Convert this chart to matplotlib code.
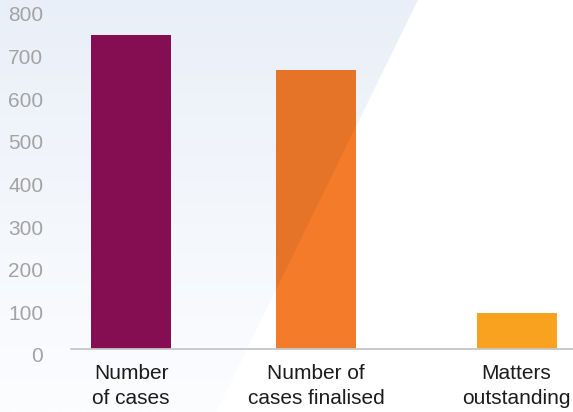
import numpy as np
import matplotlib.pyplot as plt
from matplotlib.patches import Polygon
import matplotlib.transforms as mtransforms

plt.rcParams['font.family'] = ['Liberation Sans', 'DejaVu Sans']

categories = ["Number\nof cases", "Number of\ncases finalised", "Matters\noutstanding"]
values = [737, 654, 85]
colors = ["#850e52", "#f47b2a", "#f9a21f"]
shaded = ["#850e52", "#e57428", "#e8951c"]
yticks = [0, 100, 200, 300, 400, 500, 600, 700, 800]

W, H = 573, 412
fig = plt.figure(figsize=(W / 100, H / 100), dpi=100)

# background band with a soft vertical gradient
bg = fig.add_axes([0, 0, 1, 1], zorder=0)
bg.set_xlim(0, W)
bg.set_ylim(H, 0)
bg.axis('off')
grad = np.linspace(0, 1, 256).reshape(-1, 1)
top = np.array([233, 239, 248]) / 255
bot = np.array([252, 253, 255]) / 255
img = top + (bot - top) * grad[..., None] ** 0.9
img = img.reshape(256, 1, 3)
im = bg.imshow(img, extent=[0, W, H, 0], aspect='auto')
band = Polygon([(0, 0), (418, 0), (216, H), (0, H)], closed=True,
               transform=bg.transData, facecolor='none', edgecolor='none')
bg.add_patch(band)
im.set_clip_path(band)

ax = fig.add_axes([71 / W, 63 / H, 1 - 71 / W, 349 / H], zorder=1)
ax.patch.set_alpha(0)

pos = [0, 0.96, 2.0]
px = 192.75
ax.bar(pos, values, width=80 / px, color=colors, zorder=2)
over = ax.bar(pos, values, width=80 / px, color=shaded, zorder=2.5)
band2 = Polygon([(0, 0), (418, 0), (216, H), (0, H)], closed=True,
                transform=bg.transData)
for b in over:
    b.set_clip_path(band2)

ax.set_xlim(-60 / px, (W - 131) / px)
ax.set_ylim(0, 349 / 0.4263)

for s in ['top', 'right', 'left']:
    ax.spines[s].set_visible(False)
ax.spines['bottom'].set_color('#c6c6c8')
ax.spines['bottom'].set_linewidth(1.3)
ax.spines['bottom'].set_zorder(3)

ax.set_yticks(yticks)
ax.tick_params(axis='y', length=0, pad=20, labelsize=15, labelcolor='#a3a3a3')
off = mtransforms.ScaledTranslation(0, -0.06, fig.dpi_scale_trans)
for lab in ax.get_yticklabels():
    lab.set_transform(lab.get_transform() + off)

ax.set_xticks(pos)
ax.set_xticklabels(categories, linespacing=1.36)
ax.tick_params(axis='x', length=0, pad=11, labelsize=15, labelcolor='#1c1c1c')

fig.savefig("out.png", dpi=100)
